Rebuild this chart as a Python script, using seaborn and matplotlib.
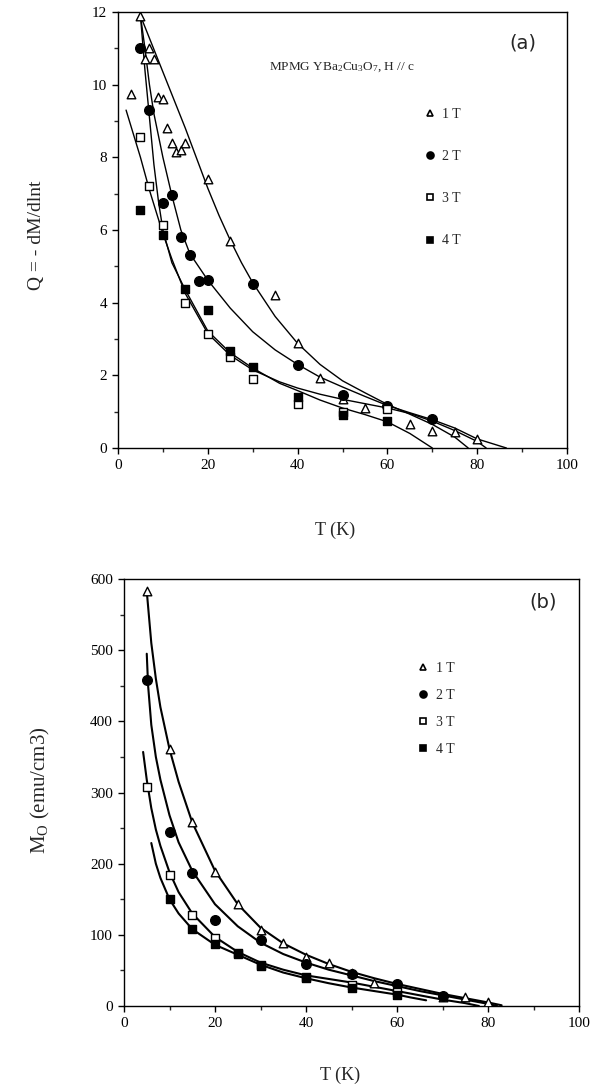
import matplotlib
matplotlib.use("Agg")
import matplotlib.pyplot as plt
import seaborn as sns
import pandas as pd
from matplotlib.lines import Line2D
from matplotlib.ticker import MultipleLocator

# ---------------- data : panel (a)  Q = -dM/dlnt ----------------
fields = ["1 T", "2 T", "3 T", "4 T"]

a_T1 = [3, 5, 6, 7, 8, 9, 10, 11, 12, 13, 14, 15, 20, 25, 35, 40, 45, 50, 55, 65, 70, 75, 80]
a_Q1 = [9.75, 11.9, 10.7, 11.0, 10.7, 9.65, 9.6, 8.8, 8.4, 8.15, 8.2, 8.4, 7.4, 5.7, 4.2, 2.9,
        1.93, 1.35, 1.09, 0.65, 0.47, 0.43, 0.24]
a_T2 = [5, 7, 10, 12, 14, 16, 18, 20, 30, 40, 50, 60, 70]
a_Q2 = [11.0, 9.3, 6.75, 6.95, 5.8, 5.3, 4.6, 4.63, 4.52, 2.29, 1.45, 1.16, 0.8]
a_T3 = [5, 7, 10, 15, 20, 25, 30, 40, 50, 60]
a_Q3 = [8.55, 7.2, 6.15, 4.0, 3.15, 2.5, 1.9, 1.22, 1.0, 1.07]
a_T4 = [5, 10, 15, 20, 25, 30, 40, 50, 60]
a_Q4 = [6.55, 5.85, 4.38, 3.8, 2.68, 2.22, 1.4, 0.91, 0.74]

# fitted curves
fa_T1 = [5, 10, 15, 20, 22.5, 25, 27.5, 30, 35, 40, 45, 50, 55, 60, 65, 70, 75, 78]
fa_Q1 = [11.9, 10.35, 8.8, 7.15, 6.4, 5.72, 5.1, 4.55, 3.62, 2.88, 2.3, 1.85, 1.52, 1.2, 0.93,
         0.65, 0.3, 0.0]
fa_T2 = [5, 6, 7, 8, 10, 12, 14, 16, 20, 25, 30, 35, 40, 45, 50, 55, 60, 65, 70, 75, 80, 86.5]
fa_Q2 = [11.9, 11.0, 10.0, 9.2, 8.0, 6.95, 6.0, 5.35, 4.62, 3.85, 3.2, 2.7, 2.3, 1.95, 1.68,
         1.42, 1.17, 0.97, 0.78, 0.55, 0.25, 0.0]
fa_T3 = [1.8, 5, 7, 10, 12, 15, 20, 25, 30, 36, 40, 45, 50, 55, 60, 65, 70, 75, 80, 82]
fa_Q3 = [9.3, 8.0, 7.1, 5.9, 5.2, 4.25, 3.15, 2.55, 2.15, 1.82, 1.65, 1.48, 1.34, 1.22, 1.1,
         0.95, 0.74, 0.48, 0.18, 0.0]
fa_T4 = [5, 6, 7, 8, 9, 10, 12, 15, 20, 25, 30, 36, 40, 45, 50, 55, 60, 65, 70]
fa_Q4 = [11.9, 10.4, 9.1, 7.8, 6.8, 6.0, 5.1, 4.35, 3.22, 2.62, 2.2, 1.78, 1.58, 1.32, 1.1,
         0.92, 0.72, 0.4, 0.0]

# ---------------- data : panel (b)  M0 ----------------
b_T1 = [5, 10, 15, 20, 25, 30, 35, 40, 45, 50, 55, 60, 70, 75, 80]
b_M1 = [583, 361, 259, 188, 143, 107, 88, 69, 61, 47, 33, 27, 13, 12, 5]
b_T2 = [5, 10, 15, 20, 30, 40, 50, 60, 70]
b_M2 = [458, 245, 187, 121, 93, 59, 45, 31, 14]
b_T3 = [5, 10, 15, 20, 25, 30, 40, 50, 60]
b_M3 = [308, 184, 128, 95, 74, 56, 41, 29, 19]
b_T4 = [10, 15, 20, 25, 30, 40, 50, 60]
b_M4 = [151, 108, 87, 73, 57, 39, 25, 15]

fb_T1 = [5, 6, 7, 8, 10, 12, 15, 20, 25, 30, 35, 40, 45, 50, 55, 60, 65, 70, 75, 80, 83]
fb_M1 = [583, 510, 460, 420, 361, 315, 258, 190, 143, 110, 88, 72, 59, 48, 39, 31, 24, 17, 11, 5, 1]
fb_T2 = [5, 5.3, 6, 7, 8, 10, 12, 15, 20, 25, 30, 35, 40, 45, 50, 55, 60, 65, 70, 75, 80, 82]
fb_M2 = [495, 450, 395, 350, 318, 268, 230, 190, 143, 112, 89, 73, 61, 51, 43, 35, 28, 21, 15, 9, 3, 0]
fb_T3 = [4.2, 5, 6, 7, 8, 10, 12, 15, 20, 25, 30, 35, 40, 45, 50, 55, 60, 65, 70, 75, 78]
fb_M3 = [357, 318, 278, 248, 225, 188, 160, 130, 97, 76, 61, 51, 43, 38, 33, 27, 21, 15, 9, 4, 0]
fb_T4 = [6, 7, 8, 10, 12, 15, 20, 25, 30, 35, 40, 45, 50, 55, 60, 63, 66.4]
fb_M4 = [229, 200, 180, 150, 130, 108, 86, 72, 58, 47, 39, 32, 26, 21, 16, 12, 8]

markers = ["^", "o", "s", "s"]
faces = ["white", "black", "white", "black"]
sizes = [38, 48, 38, 38]

# ---------------- style ----------------
sns.set_theme(style="ticks")
plt.rcParams["font.family"] = ["Liberation Serif", "DejaVu Serif"]
plt.rcParams["mathtext.fontset"] = "custom"
plt.rcParams["mathtext.rm"] = "Liberation Serif"
plt.rcParams["mathtext.default"] = "regular"
plt.rcParams["axes.edgecolor"] = "black"
plt.rcParams["axes.linewidth"] = 1.0

W, H = 594, 1090
fig = plt.figure(figsize=(W / 100, H / 100), dpi=100)


def ax_px(l, t, r, b):
    return fig.add_axes([l / W, 1 - b / H, (r - l) / W, (b - t) / H])


def panel(ax, pts, fits, lw):
    for (T, V), m, fc, s in zip(pts, markers, faces, sizes):
        df = pd.DataFrame({"T": T, "V": V})
        sns.scatterplot(data=df, x="T", y="V", marker=m, s=s, color=fc,
                        edgecolor="black", linewidth=1.0, ax=ax, zorder=3)
    for T, V in fits:
        df = pd.DataFrame({"T": T, "V": V})
        sns.lineplot(data=df, x="T", y="V", color="black", lw=lw, sort=False,
                     estimator=None, ax=ax, zorder=2)
    ax.set_xlim(0, 100)
    ax.xaxis.set_major_locator(MultipleLocator(20))
    ax.xaxis.set_minor_locator(MultipleLocator(10))
    ax.tick_params(which="major", direction="out", length=4, width=1, labelsize=11,
                   colors="black", pad=4)
    ax.tick_params(which="minor", direction="out", length=3, width=1)
    for s in ax.spines.values():
        s.set_visible(True)
        s.set_color("black")
    ax.set_xlabel("")
    ax.set_ylabel("")


def legend(ax, x, y, spacing):
    handles = [Line2D([], [], ls="", marker=m, markersize=5, markerfacecolor=fc,
                      markeredgecolor="black", markeredgewidth=1.2)
               for m, fc in zip(markers, faces)]
    ax.legend(handles, fields, loc="upper left", bbox_to_anchor=(x, y), frameon=False,
              fontsize=10, handlelength=1.0, handletextpad=0.4, labelspacing=spacing,
              borderpad=0, borderaxespad=0)


# ---------------- panel (a) ----------------
axa = ax_px(118, 12, 567, 448)
panel(axa,
      [(a_T1, a_Q1), (a_T2, a_Q2), (a_T3, a_Q3), (a_T4, a_Q4)],
      [(fa_T1, fa_Q1), (fa_T2, fa_Q2), (fa_T3, fa_Q3), (fa_T4, fa_Q4)], 1.0)
axa.set_ylim(0, 12)
axa.yaxis.set_major_locator(MultipleLocator(2))
axa.yaxis.set_minor_locator(MultipleLocator(1))
legend(axa, 0.679, 0.78, 2.1)
axa.text(0.337, 0.873, "MPMG YBa$_2$Cu$_3$O$_7$, H // c", transform=axa.transAxes,
         fontsize=9.5, va="center", ha="left")
fig.text(523 / W, 1 - 43 / H, "(a)", family="DejaVu Sans", fontsize=14,
         ha="center", va="center")
fig.text(335 / W, 1 - 530 / H, "T (K)", fontsize=13, ha="center", va="center")
fig.text(37 / W, 1 - 235 / H, "Q = - dM/dlnt", fontsize=14, rotation=90,
         ha="center", va="center")

# ---------------- panel (b) ----------------
axb = ax_px(124, 579, 579, 1006)
panel(axb,
      [(b_T1, b_M1), (b_T2, b_M2), (b_T3, b_M3), (b_T4, b_M4)],
      [(fb_T1, fb_M1), (fb_T2, fb_M2), (fb_T3, fb_M3), (fb_T4, fb_M4)], 1.5)
axb.set_ylim(0, 600)
axb.yaxis.set_major_locator(MultipleLocator(100))
axb.yaxis.set_minor_locator(MultipleLocator(50))
legend(axb, 0.642, 0.806, 1.0)
fig.text(543 / W, 1 - 602 / H, "(b)", family="DejaVu Sans", fontsize=14,
         ha="center", va="center")
fig.text(340 / W, 1 - 1075 / H, "T (K)", fontsize=13, ha="center", va="center")
fig.text(40 / W, 1 - 790 / H, "M$_O$ (emu/cm3)", fontsize=15, rotation=90,
         ha="center", va="center")

fig.savefig("out.png", dpi=100)
